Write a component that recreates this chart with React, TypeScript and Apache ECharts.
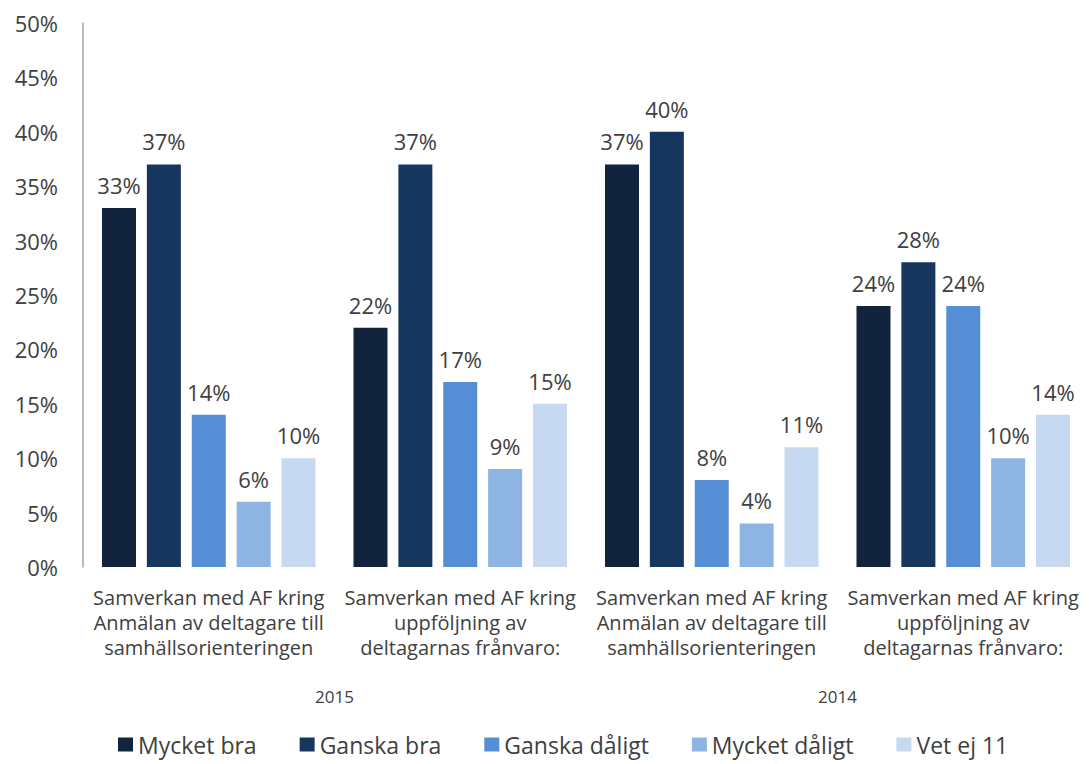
import React, { useEffect, useRef } from "react";
import * as echarts from "echarts";

const categories = [
  "Samverkan med AF kring\nAnmälan av deltagare till\nsamhällsorienteringen",
  "Samverkan med AF kring\nuppföljning av\ndeltagarnas frånvaro:",
  "Samverkan med AF kring\nAnmälan av deltagare till\nsamhällsorienteringen",
  "Samverkan med AF kring\nuppföljning av\ndeltagarnas frånvaro:",
];
const years = ["2015", "2014"];
const seriesNames = ["Mycket bra", "Ganska bra", "Ganska dåligt", "Mycket dåligt", "Vet ej 11"];
const mycketBra = [33, 22, 37, 24];
const ganskaBra = [37, 37, 40, 28];
const ganskaDaligt = [14, 17, 8, 24];
const mycketDaligt = [6, 9, 4, 10];
const vetEj = [10, 15, 11, 14];
const colors = ["#12233d", "#17365d", "#558ed5", "#8eb4e3", "#c6d9f1"];

const FONT = "'Open Sans', 'Noto Sans', sans-serif";

export default function App() {
  const ref = useRef<HTMLDivElement>(null);
  useEffect(() => {
    if (!ref.current) return;
    const chart = echarts.init(ref.current, null, { renderer: "svg" });
    const values = [mycketBra, ganskaBra, ganskaDaligt, mycketDaligt, vetEj];
    chart.setOption({
      animation: false,
      textStyle: { fontFamily: FONT },
      grid: { left: 83, right: 0, top: 23, bottom: 197, containLabel: false },
      legend: {
        top: 733,
        left: 118,
        padding: 0,
        itemWidth: 15,
        itemHeight: 14,
        itemGap: 43,
        icon: "rect",
        textStyle: { fontSize: 23, color: "#404040", fontFamily: FONT },
        data: seriesNames,
      },
      xAxis: [
        {
          type: "category",
          data: categories,
          axisLine: { show: false },
          axisTick: { show: false },
          axisLabel: {
            interval: 0,
            fontSize: 20,
            lineHeight: 25,
            color: "#404040",
            margin: 18,
          },
        },
        {
          type: "category",
          data: years,
          position: "bottom",
          offset: 111,
          axisLine: { show: false },
          axisTick: { show: false },
          axisLabel: { fontSize: 17, color: "#404040", margin: 10 },
        },
      ],
      yAxis: {
        type: "value",
        min: 0,
        max: 50,
        interval: 5,
        axisLine: { show: true, lineStyle: { color: "#a6a6a6", width: 1.5 } },
        axisTick: { show: false },
        splitLine: { show: false },
        axisLabel: { formatter: "{value}%", fontSize: 22, color: "#404040", margin: 25 },
      },
      series: seriesNames.map((name, i) => ({
        name,
        type: "bar",
        xAxisIndex: 0,
        data: values[i],
        barWidth: 34,
        barGap: "32%",
        itemStyle: { color: colors[i] },
        label: {
          show: true,
          position: "top",
          formatter: "{c}%",
          fontSize: 22,
          color: "#404040",
          distance: 12,
        },
      })),
    });
    return () => chart.dispose();
  }, []);
  return (
    <div
      ref={ref}
      style={{ position: "absolute", left: 0, top: 0, width: 1089, height: 764, background: "#fff" }}
    />
  );
}
